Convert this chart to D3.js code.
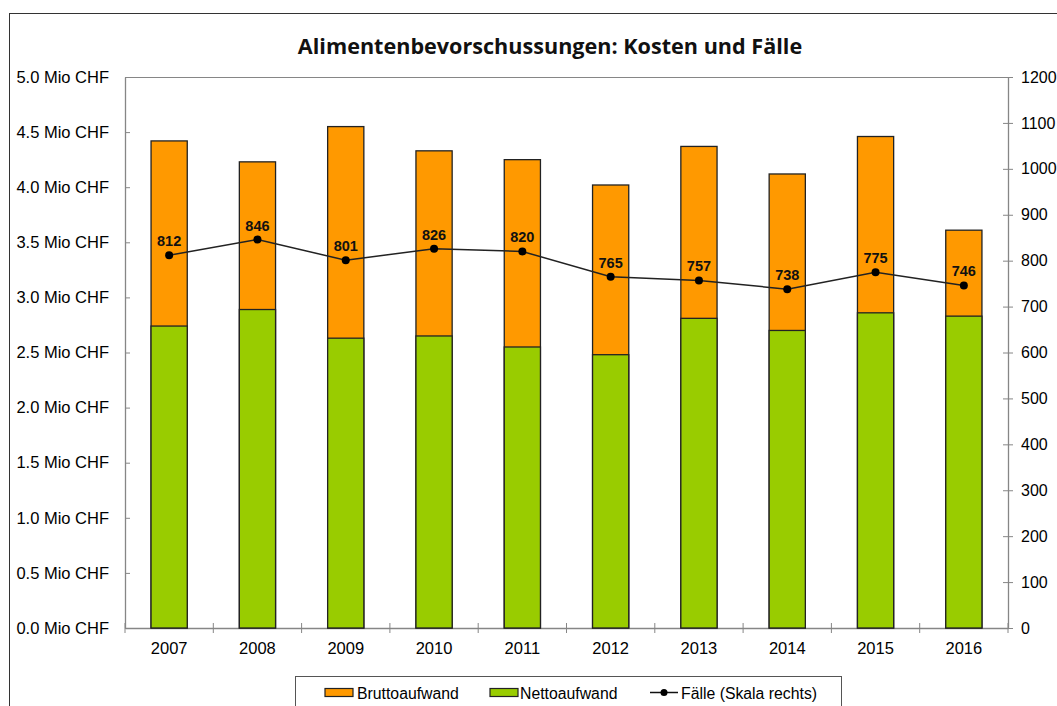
<!DOCTYPE html>
<html><head><meta charset="utf-8">
<script src="https://cdn.jsdelivr.net/npm/d3@7"></script>
<style>body{margin:0;background:#fff}svg{display:block}</style>
</head><body>
<svg id="c" width="1057" height="706"></svg>
<script>
const years = ["2007","2008","2009","2010","2011","2012","2013","2014","2015","2016"];
const brutto = [4.42, 4.23, 4.55, 4.33, 4.25, 4.02, 4.37, 4.12, 4.46, 3.61];
const netto = [2.74, 2.89, 2.63, 2.65, 2.55, 2.48, 2.81, 2.70, 2.86, 2.83];
const faelle = [812, 846, 801, 826, 820, 765, 757, 738, 775, 746];
const leftTicks = [0, 0.5, 1, 1.5, 2, 2.5, 3, 3.5, 4, 4.5, 5];
const rightTicks = [0, 100, 200, 300, 400, 500, 600, 700, 800, 900, 1000, 1100, 1200];
const title = "Alimentenbevorschussungen: Kosten und Fälle";
const legendLabels = ["Bruttoaufwand", "Nettoaufwand", "Fälle (Skala rechts)"];

const svg = d3.select("#c");
const L = 125, R = 1008, T = 77, B = 628;
const font = "'Liberation Sans', Arial, sans-serif";
const axisCol = "#868686";

// outer frame
svg.append("rect").attr("x", 9.5).attr("y", 13.5).attr("width", 1100).attr("height", 800)
  .attr("fill", "none").attr("stroke", "#333").attr("stroke-width", 1);

svg.append("text").attr("x", 550).attr("y", 54).attr("text-anchor", "middle")
  .attr("font-family", "'Open Sans', 'DejaVu Sans', sans-serif").attr("font-weight", "bold")
  .attr("font-size", 21.6).attr("fill", "#111").text(title);

const x = d3.scaleBand().domain(years).range([L, R]).paddingInner(0.59).paddingOuter(0.295);
const yL = d3.scaleLinear().domain([0, 5]).range([B, T]);
const yR = d3.scaleLinear().domain([0, 1200]).range([B, T]);

// plot area top line
svg.append("line").attr("x1", L).attr("x2", R).attr("y1", T + 0.5).attr("y2", T + 0.5)
  .attr("stroke", axisCol).attr("stroke-width", 1);

// left axis
const gL = svg.append("g").attr("transform", `translate(${L},0)`)
  .call(d3.axisLeft(yL).tickValues(leftTicks).tickSizeInner(5).tickSizeOuter(0)
    .tickFormat(d => d3.format(".1f")(d) + " Mio CHF"));
gL.selectAll(".tick line").attr("x2", 5);
// right axis
const gR = svg.append("g").attr("transform", `translate(${R},0)`)
  .call(d3.axisRight(yR).tickValues(rightTicks).tickSizeInner(5).tickSizeOuter(0)
    .tickFormat(d3.format("d")));
gR.selectAll(".tick line").attr("x2", 5).attr("x1", -5);

// bottom axis with ticks at category boundaries
const gB = svg.append("g").attr("transform", `translate(0,${B})`)
  .call(d3.axisBottom(x).tickSize(0).tickPadding(14));
const step = x.step();
const bounds = d3.range(years.length + 1).map(i => L + i * step);
gB.selectAll("line.bnd").data(bounds).join("line").attr("class", "bnd")
  .attr("x1", d => d).attr("x2", d => d).attr("y1", -5).attr("y2", 5)
  .attr("stroke", axisCol);

[gL, gR, gB].forEach(g => {
  g.select(".domain").attr("stroke", axisCol).attr("stroke-width", 1.3);
  g.selectAll(".tick line").attr("stroke", axisCol);
  g.selectAll("text").attr("font-family", font).attr("font-size", 16.5).attr("fill", "#000");
});
gL.selectAll(".tick text").attr("x", -16);
gR.selectAll(".tick text").attr("x", 13).attr("text-anchor", "start").attr("font-size", 16);

// bars
const data = years.map((y, i) => ({ y, b: brutto[i], n: netto[i], f: faelle[i] }));
svg.append("g").selectAll("rect").data(data).join("rect")
  .attr("x", d => x(d.y)).attr("width", x.bandwidth())
  .attr("y", d => yL(d.b)).attr("height", d => yL(0) - yL(d.b))
  .attr("fill", "#FF9900").attr("stroke", "#222").attr("stroke-width", 1.3);
svg.append("g").selectAll("rect").data(data).join("rect")
  .attr("x", d => x(d.y)).attr("width", x.bandwidth())
  .attr("y", d => yL(d.n)).attr("height", d => yL(0) - yL(d.n))
  .attr("fill", "#99CC00").attr("stroke", "#222").attr("stroke-width", 1.3);

// line
const cx = d => x(d.y) + x.bandwidth() / 2;
svg.append("path").datum(data)
  .attr("d", d3.line().x(cx).y(d => yR(d.f)))
  .attr("fill", "none").attr("stroke", "#222").attr("stroke-width", 1.5);
svg.append("g").selectAll("circle").data(data).join("circle")
  .attr("cx", cx).attr("cy", d => yR(d.f)).attr("r", 4).attr("fill", "#000");
svg.append("g").selectAll("text").data(data).join("text")
  .attr("x", cx).attr("y", d => yR(d.f) - 9).attr("text-anchor", "middle")
  .attr("font-family", font).attr("font-weight", "bold").attr("font-size", 14.5)
  .attr("fill", "#111").text(d => d.f);

// legend
const lg = svg.append("g");
lg.append("rect").attr("x", 295.5).attr("y", 676.5).attr("width", 546).attr("height", 60)
  .attr("fill", "#fff").attr("stroke", "#555");
const ly = 692.5;
lg.append("rect").attr("x", 325).attr("y", ly - 4).attr("width", 28).attr("height", 8)
  .attr("fill", "#FF9900").attr("stroke", "#222").attr("stroke-width", 1.2);
lg.append("rect").attr("x", 490).attr("y", ly - 4).attr("width", 28).attr("height", 8)
  .attr("fill", "#99CC00").attr("stroke", "#222").attr("stroke-width", 1.2);
lg.append("line").attr("x1", 650).attr("x2", 678).attr("y1", ly).attr("y2", ly)
  .attr("stroke", "#111").attr("stroke-width", 1.5);
lg.append("circle").attr("cx", 664).attr("cy", ly).attr("r", 3.5).attr("fill", "#000");
const lx = [357, 520, 681];
lg.selectAll("text.l").data(legendLabels).join("text").attr("class", "l")
  .attr("x", (d, i) => lx[i]).attr("y", ly + 6)
  .attr("font-family", font).attr("font-size", 15.8).attr("fill", "#000").text(d => d);
</script>
</body></html>
